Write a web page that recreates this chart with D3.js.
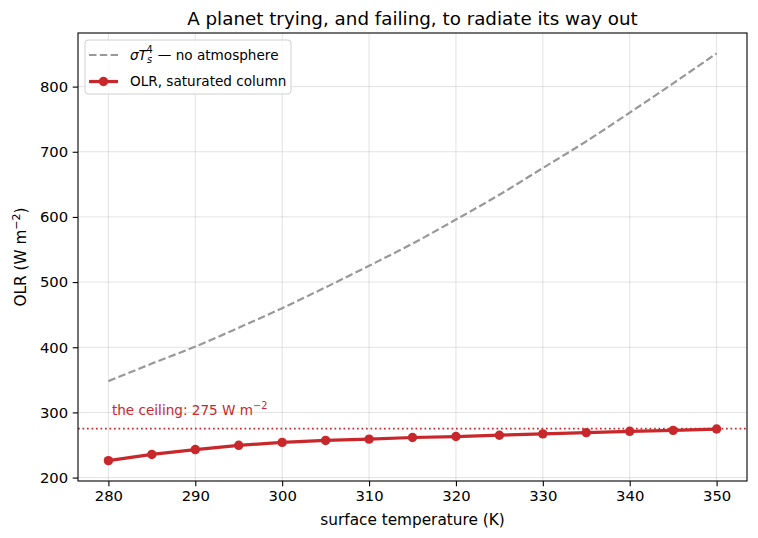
<!DOCTYPE html>
<html>
<head>
<meta charset="utf-8">
<script src="https://cdn.jsdelivr.net/npm/d3@7"></script>
<style>
  body { margin: 0; background: #fff; }
  svg { font-family: "DejaVu Sans", sans-serif; }
</style>
</head>
<body>
<svg id="chart"></svg>
<script>
// surface temperature (K), one point every 5 K
var temps = [280, 285, 290, 295, 300, 305, 310, 315, 320, 325, 330, 335, 340, 345, 350];
// blackbody emission, no atmosphere
var bareOLR = [348, 375, 401, 430, 460, 492, 525, 559, 596, 634, 675, 716, 760, 805, 851];
// OLR from the saturated column
var satOLR = [226, 235.5, 243, 249.5, 254, 257, 259, 261.5, 263, 265, 267, 269, 271, 272.5, 274.5];
var ceiling = 275;
var xTicks = [280, 290, 300, 310, 320, 330, 340, 350];
var yTicks = [200, 300, 400, 500, 600, 700, 800];

var svgWidth = 758, svgHeight = 538;
var margin = { left: 78, top: 33, right: 11, bottom: 57 };
var w = svgWidth - margin.left - margin.right,
    h = svgHeight - margin.top - margin.bottom;
var red = "#c8282b", grey = "#999999";

var svg = d3.select("#chart")
    .attr("width", svgWidth)
    .attr("height", svgHeight);

var x = d3.scaleLinear().domain([276.5, 353.5]).range([0, w]);
var y = d3.scaleLinear().domain([194.75, 882.25]).range([h, 0]);

var g = svg.append("g")
    .attr("transform", "translate(" + margin.left + "," + margin.top + ")");

// grid
g.append("g").selectAll("line").data(xTicks).enter().append("line")
    .attr("x1", function (d) { return x(d); }).attr("x2", function (d) { return x(d); })
    .attr("y1", 0).attr("y2", h)
    .attr("stroke", "#b0b0b0").attr("stroke-opacity", 0.35).attr("stroke-width", 1);
g.append("g").selectAll("line").data(yTicks).enter().append("line")
    .attr("y1", function (d) { return y(d); }).attr("y2", function (d) { return y(d); })
    .attr("x1", 0).attr("x2", w)
    .attr("stroke", "#b0b0b0").attr("stroke-opacity", 0.35).attr("stroke-width", 1);

// axes
var xAxis = g.append("g")
    .attr("transform", "translate(0," + h + ")")
    .call(d3.axisBottom(x).tickValues(xTicks).tickSize(5.3).tickPadding(4.5).tickSizeOuter(0));
var yAxis = g.append("g")
    .call(d3.axisLeft(y).tickValues(yTicks).tickSize(5.3).tickPadding(4.5).tickSizeOuter(0));
[xAxis, yAxis].forEach(function (a) {
    a.select(".domain").remove();
    a.selectAll("line").attr("stroke", "#000").attr("stroke-width", 1.1);
    a.selectAll("text").attr("fill", "#000")
        .style("font-family", "DejaVu Sans").style("font-size", "14.8px");
});

// ceiling
g.append("line")
    .attr("x1", 0).attr("x2", w)
    .attr("y1", y(ceiling)).attr("y2", y(ceiling))
    .attr("stroke", red).attr("stroke-width", 1.7)
    .attr("stroke-dasharray", "1.7,2.8");
g.append("text")
    .attr("x", x(280.4)).attr("y", y(ceiling) - 14)
    .attr("fill", red).style("font-size", "13.6px")
    .text("the ceiling: 275 W m")
    .append("tspan").attr("dy", -5.5).style("font-size", "9.8px").text("\u22122");

// curves
var bareLine = d3.line()
    .x(function (d, i) { return x(temps[i]); })
    .y(function (d) { return y(d); })
    .curve(d3.curveMonotoneX);
g.append("path")
    .attr("d", bareLine(bareOLR))
    .attr("fill", "none").attr("stroke", grey).attr("stroke-width", 2.2)
    .attr("stroke-dasharray", "7.5,3.3");

var satLine = d3.line()
    .x(function (d, i) { return x(temps[i]); })
    .y(function (d) { return y(d); });
g.append("path")
    .attr("d", satLine(satOLR))
    .attr("fill", "none").attr("stroke", red).attr("stroke-width", 3.2)
    .attr("stroke-linejoin", "round");
g.append("g").selectAll("circle").data(satOLR).enter().append("circle")
    .attr("cx", function (d, i) { return x(temps[i]); })
    .attr("cy", function (d) { return y(d); })
    .attr("r", 4.7)
    .attr("fill", red);

// frame
g.append("rect")
    .attr("width", w).attr("height", h)
    .attr("fill", "none").attr("stroke", "#000").attr("stroke-width", 1.1);

// legend
var lg = g.append("g").attr("transform", "translate(7,7)");
lg.append("rect")
    .attr("width", 206).attr("height", 54).attr("rx", 3)
    .attr("fill", "#fff").attr("fill-opacity", 0.8)
    .attr("stroke", "#d0d0d0").attr("stroke-width", 1);
lg.append("line")
    .attr("x1", 4).attr("x2", 33).attr("y1", 15).attr("y2", 15)
    .attr("stroke", grey).attr("stroke-width", 2.2).attr("stroke-dasharray", "7.5,3.3");
var t1 = lg.append("text").attr("x", 45).attr("y", 19.5).style("font-size", "13.6px");
t1.append("tspan").style("font-style", "italic").text("\u03c3T");
t1.append("tspan").style("font-style", "italic").style("font-size", "9.8px").attr("dy", 3.5).text("s");
t1.append("tspan").style("font-size", "9.8px").attr("dx", -5.5).attr("dy", -10).text("4");
t1.append("tspan").attr("dx", 5).attr("dy", 6.5).text("\u2014 no atmosphere");

lg.append("line")
    .attr("x1", 4).attr("x2", 33).attr("y1", 41.5).attr("y2", 41.5)
    .attr("stroke", red).attr("stroke-width", 3.2);
lg.append("circle").attr("cx", 18.5).attr("cy", 41.5).attr("r", 4.7).attr("fill", red);
lg.append("text").attr("x", 45).attr("y", 46.3).style("font-size", "13.6px")
    .text("OLR, saturated column");

// title and axis labels
svg.append("text")
    .attr("x", margin.left + w / 2).attr("y", 25)
    .attr("text-anchor", "middle").style("font-size", "18.3px")
    .text("A planet trying, and failing, to radiate its way out");
svg.append("text")
    .attr("x", margin.left + w / 2).attr("y", 525)
    .attr("text-anchor", "middle").style("font-size", "15.3px")
    .text("surface temperature (K)");
var yl = svg.append("text")
    .attr("transform", "translate(26," + (margin.top + h / 2) + ") rotate(-90)")
    .attr("text-anchor", "middle").style("font-size", "15.3px");
yl.append("tspan").text("OLR (W m");
yl.append("tspan").attr("dy", -6.5).style("font-size", "11px").text("\u22122");
yl.append("tspan").attr("dy", 6.5).text(")");
</script>
</body>
</html>
